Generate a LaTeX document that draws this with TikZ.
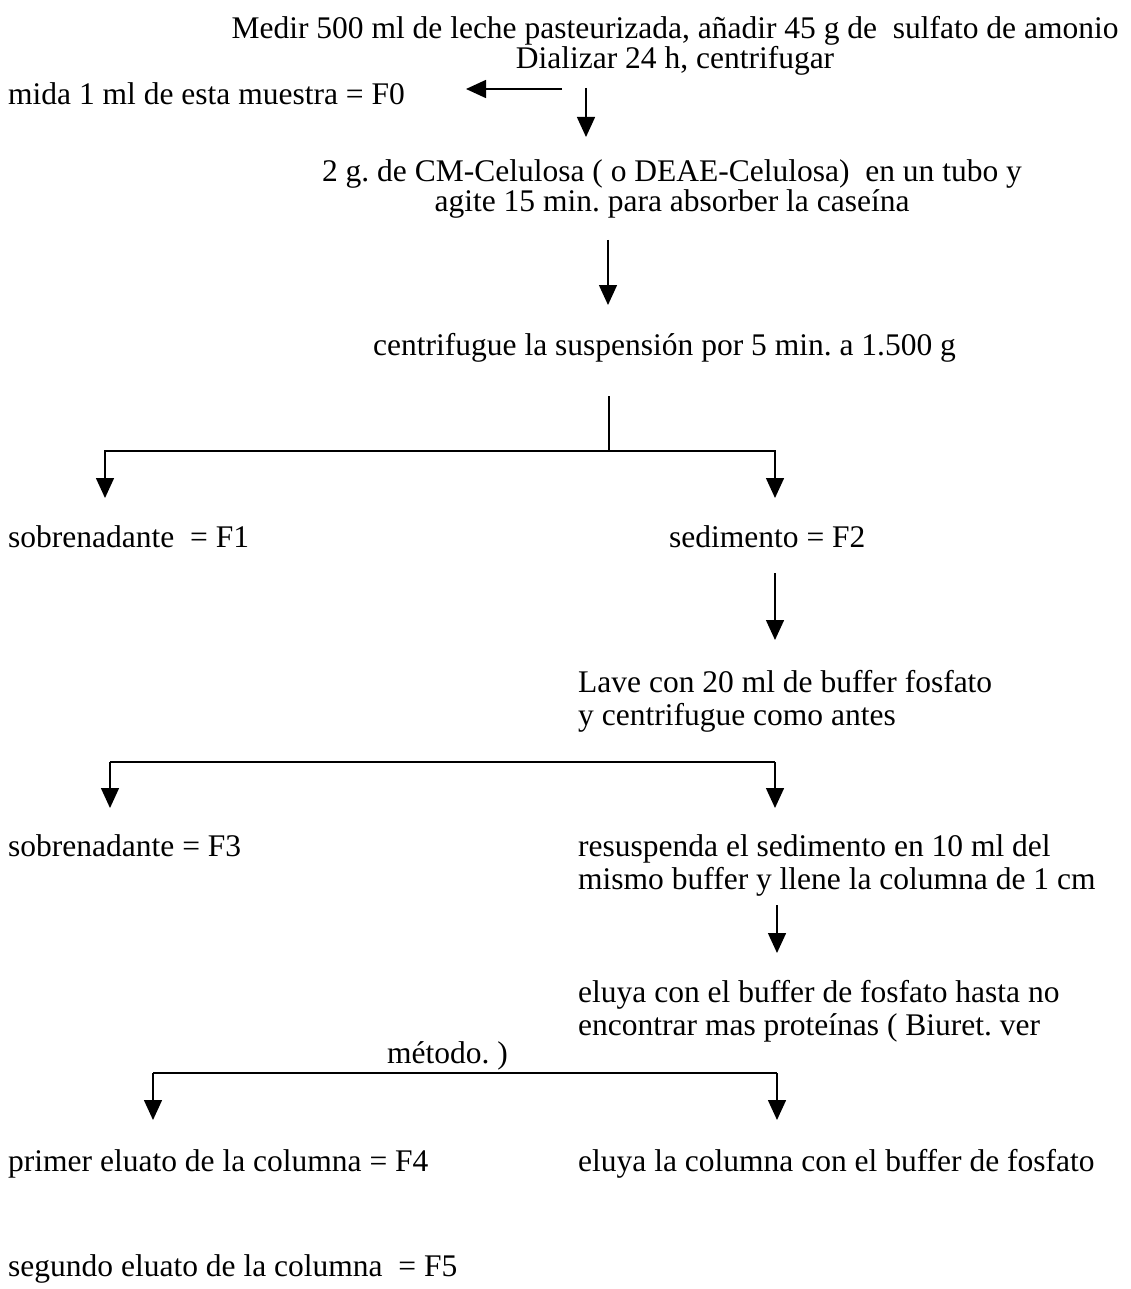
\documentclass[tikz,border=0pt]{standalone}
\usepackage{fontspec}
\setmainfont{Liberation Serif}
\usetikzlibrary{arrows.meta}
\begin{document}
\frenchspacing
\begin{tikzpicture}[x=1pt,y=-1pt,
  txt/.style={anchor=base west,inner sep=0pt,font=\fontsize{31.5}{33}\selectfont},
  ctxt/.style={anchor=base,inner sep=0pt,font=\fontsize{31.5}{33}\selectfont,align=center},
  arr/.style={line width=1.5pt,-{Triangle[width=18pt,length=20pt]}},
  ln/.style={line width=1.5pt}]
\useasboundingbox (0,0) rectangle (1130,1289);
% texts
\node[ctxt] (t1) at (675,39) {Medir 500 ml de leche pasteurizada, añadir 45 g de\ \ sulfato de amonio};
\node[ctxt] (t2) at (675,69) {Dializar 24 h, centrifugar};
\node[txt] (f0) at (8,105) {mida 1 ml de esta muestra = F0};
\node[ctxt] (cm1) at (672,182) {2 g. de CM-Celulosa ( o DEAE-Celulosa)\ \ en un tubo y};
\node[ctxt] (cm2) at (672,212) {agite 15 min. para absorber la caseína};
\node[txt] (cen) at (373,355) {centrifugue la suspensión por 5 min. a 1.500 g};
\node[txt] (f1) at (8,547) {sobrenadante\ \ = F1};
\node[txt] (f2) at (669,547) {sedimento = F2};
\node[txt] (lav1) at (578,692) {Lave con 20 ml de buffer fosfato};
\node[txt] (lav2) at (578,725) {y centrifugue como antes};
\node[txt] (f3) at (8,856) {sobrenadante = F3};
\node[txt] (res1) at (578,856) {resuspenda el sedimento en 10 ml del};
\node[txt] (res2) at (578,889) {mismo buffer y llene la columna de 1 cm};
\node[txt] (elu1) at (578,1002) {eluya con el buffer de fosfato hasta no};
\node[txt] (elu2) at (578,1035) {encontrar mas proteínas ( Biuret. ver};
\node[txt] (elu3) at (387,1063) {método. )};
\node[txt] (f4) at (8,1171) {primer eluato de la columna = F4};
\node[txt] (elu4) at (578,1171) {eluya la columna con el buffer de fosfato};
\node[txt] (f5) at (8,1276) {segundo eluato de la columna\ \ = F5};
% connector coordinates
\coordinate (a0s) at (562,89);
\coordinate (a0e) at (466,89);
\coordinate (a1s) at (586,88);
\coordinate (a1e) at (586,137);
\coordinate (a2s) at (608,240);
\coordinate (a2e) at (608,305);
\coordinate (b1s) at (609,396);
\coordinate (b1m) at (609,451);
\coordinate (b1l) at (105,451);
\coordinate (b1r) at (775,451);
\coordinate (b1le) at (105,498);
\coordinate (b1re) at (775,498);
\coordinate (a3s) at (775,573);
\coordinate (a3e) at (775,640);
\coordinate (b2l) at (110,762);
\coordinate (b2r) at (775,762);
\coordinate (b2le) at (110,808);
\coordinate (b2re) at (775,808);
\coordinate (a4s) at (777,905);
\coordinate (a4e) at (777,953);
\coordinate (b3l) at (153,1073);
\coordinate (b3r) at (777,1073);
\coordinate (b3le) at (153,1120);
\coordinate (b3re) at (777,1120);
% connectors
\draw[arr] (a0s) -- (a0e);
\draw[arr] (a1s) -- (a1e);
\draw[arr] (a2s) -- (a2e);
\draw[ln] (b1s) -- (b1m);
\draw[arr] (b1m) -- (b1l) -- (b1le);
\draw[arr] (b1m) -- (b1r) -- (b1re);
\draw[arr] (a3s) -- (a3e);
\draw[ln] (b2l) -- (b2r);
\draw[arr] (b2l) -- (b2le);
\draw[arr] (b2r) -- (b2re);
\draw[arr] (a4s) -- (a4e);
\draw[ln] (b3l) -- (b3r);
\draw[arr] (b3l) -- (b3le);
\draw[arr] (b3r) -- (b3re);
\end{tikzpicture}
\end{document}
